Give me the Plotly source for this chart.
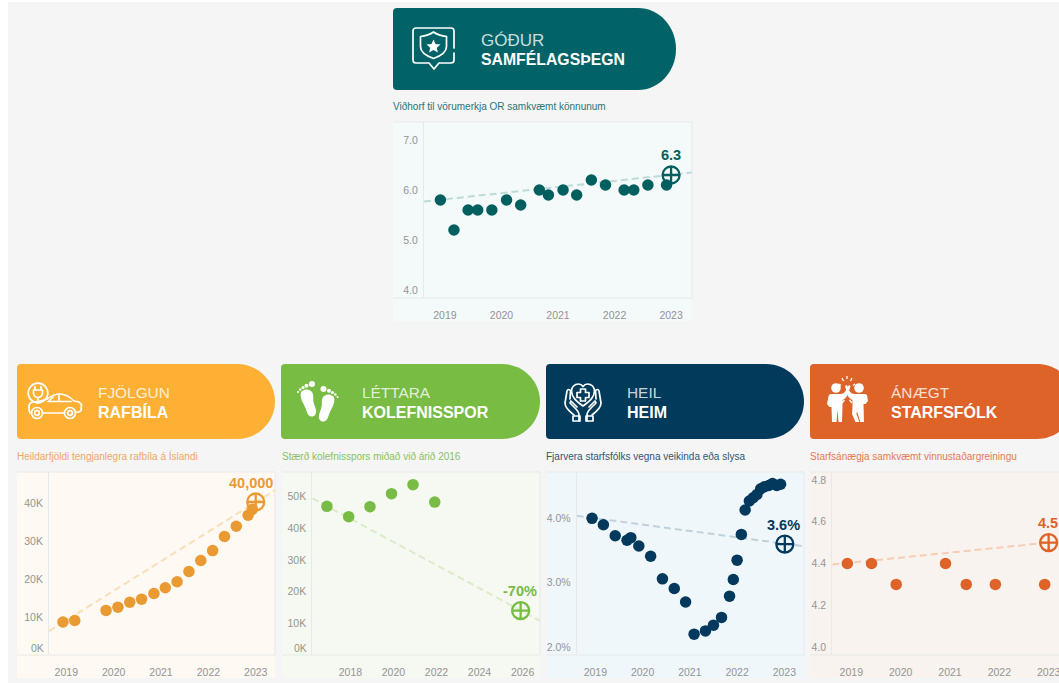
import base64
import plotly.graph_objects as go

W, H = 1059, 683
FONT = "Liberation Sans, Arial, sans-serif"

# ---------- data: social trust ----------
trust_x = [2018.92, 2019.16, 2019.41, 2019.58, 2019.83, 2020.09, 2020.34, 2020.67, 2020.83,
           2021.09, 2021.33, 2021.59, 2021.84, 2022.17, 2022.34, 2022.59, 2022.92]
trust_y = [5.8, 5.2, 5.6, 5.6, 5.6, 5.8, 5.7, 6.0, 5.9, 6.0, 5.9, 6.2, 6.1, 6.0, 6.0, 6.1, 6.1]
trust_trend_x = [2018.63, 2023.37]
trust_trend_y = [5.77, 6.35]
trust_target_x = [2023.0]
trust_target_y = [6.3]
trust_ticks = [4, 5, 6, 7]
trust_ticktext = ["4.0", "5.0", "6.0", "7.0"]

# ---------- data: electric cars ----------
ev_x = [2018.93, 2019.18, 2019.84, 2020.09, 2020.34, 2020.59, 2020.85, 2021.09, 2021.34,
        2021.59, 2021.84, 2022.09, 2022.34, 2022.59, 2022.84, 2022.93]
ev_y = [8700, 9100, 11750, 12600, 13900, 14700, 16200, 17700, 19300,
        22000, 24900, 27500, 31200, 33900, 36800, 38400]
ev_trend_x = [2018.635, 2023.407]
ev_trend_y = [6300, 43400]
ev_target_x = [2023.0]
ev_target_y = [40300]
ev_ticks = [10000, 20000, 30000, 40000]
ev_ticktext = ["10K", "20K", "30K", "40K"]

# ---------- data: carbon footprint ----------
co2_x = [2016.91, 2017.92, 2018.91, 2019.91, 2020.91, 2021.92]
co2_y = [46950, 43700, 46850, 50950, 53800, 48300]
co2_trend_x = [2016.23, 2026.81]
co2_trend_y = [49500, 10800]
co2_target_x = [2025.91]
co2_target_y = [14000]
co2_ticks = [10000, 20000, 30000, 40000, 50000]
co2_ticktext = ["10K", "20K", "30K", "40K", "50K"]
co2_xticks = [2018, 2020, 2022, 2024, 2026]

# ---------- data: absence ----------
abs_x = [2018.93, 2019.17, 2019.42, 2019.67, 2019.75, 2019.92, 2020.17, 2020.42, 2020.67,
         2020.91, 2021.09, 2021.33, 2021.50, 2021.67, 2021.84, 2021.92, 2022.0, 2022.09,
         2022.17, 2022.26, 2022.34, 2022.42, 2022.50, 2022.58, 2022.67, 2022.75, 2022.84, 2022.92]
abs_y = [4.0, 3.9, 3.73, 3.66, 3.7, 3.57, 3.41, 3.06, 2.91, 2.7, 2.2, 2.25, 2.34, 2.46,
         2.79, 3.05, 3.35, 3.75, 4.13, 4.27, 4.32, 4.37, 4.46, 4.49, 4.51, 4.54, 4.51, 4.53]
abs_trend_x = [2018.605, 2023.416]
abs_trend_y = [4.04, 3.565]
abs_target_x = [2023.01]
abs_target_y = [3.6]
abs_ticks = [2, 3, 4]
abs_ticktext = ["2.0%", "3.0%", "4.0%"]

# ---------- data: staff satisfaction ----------
sat_x = [2018.92, 2019.41, 2019.91, 2020.91, 2021.33, 2021.92, 2022.92]
sat_y = [4.4, 4.4, 4.3, 4.4, 4.3, 4.3, 4.3]
sat_trend_x = [2018.615, 2023.0]
sat_trend_y = [4.395, 4.5]
sat_target_x = [2023.0]
sat_target_y = [4.5]
sat_ticks = [4.0, 4.2, 4.4, 4.6, 4.8]
sat_ticktext = ["4.0", "4.2", "4.4", "4.6", "4.8"]

years = [2019, 2020, 2021, 2022, 2023]


def svg(w, h, body, stroke=True):
    style = 'fill="none" stroke="white" stroke-width="1.7" stroke-linecap="round" stroke-linejoin="round"' if stroke else 'fill="white"'
    s = f'<svg xmlns="http://www.w3.org/2000/svg" width="{w*3}" height="{h*3}" viewBox="0 0 {w} {h}"><g {style}>{body}</g></svg>'
    return "data:image/svg+xml;base64," + base64.b64encode(s.encode("utf-8")).decode()


ICON_SHIELD = svg(60, 60, '''
<path d="M49 30V13a3 3 0 0 0-3-3H11a3 3 0 0 0-3 3v29a3 3 0 0 0 3 3h13l5 6 5-6h12a3 3 0 0 0 3-3v-7"/>
<path d="M28.500 14c4 3 8 4 13 4.500v10c0 5-6 9.500-13 12-7-2.500-13-7-13-12v-10c5-.5 9-1.500 13-4.500z"/>
<path d="M28.500 21.500l2 4.500 5 .5-3.700 3.200 1.100 4.800-4.400-2.600-4.400 2.600 1.100-4.800-3.700-3.200 5-.5z" fill="white" stroke="none"/>
''')

ICON_CAR = svg(65, 50, '''
<circle cx="16" cy="15" r="9.800"/>
<path d="M13 8.500v3.500M19 8.500v3.500M11.500 12h9v3a4.500 4.500 0 0 1-9 0zM16 19.500v5"/>
<path d="M9.500 35H8l-1-3v-5l2-2.500 9-1.500 7-2c4-3 9-5 13-5 6 0 10 3 14 7l5 1 2.500 2.500-.5 6-2 1.500h-2"/>
<path d="M21 35h21"/>
<path d="M26 23.500h23M37 17.500v6M31 19l-4 4"/>
<circle cx="15" cy="35" r="5.500"/><circle cx="15" cy="35" r="2.300"/>
<circle cx="48" cy="35" r="5.500"/><circle cx="48" cy="35" r="2.300"/>
''')

ICON_FEET = svg(50, 50, '''
<path d="M10 16c3-2.500 8-2 10 1 2 3 1 7 1.500 10 .5 3 2 5 2.500 8 .5 3-.5 6-3.500 6.500-3 .5-5-2-6-5.500-1-3.500-2-5-4-9-1.500-3.500-3-8.500-.5-11z"/>
<circle cx="20" cy="9" r="3"/><circle cx="14.500" cy="10.800" r="2"/><circle cx="11" cy="12.500" r="1.600"/><circle cx="8.200" cy="14.500" r="1.300"/><circle cx="6" cy="17" r="1.100"/>
<path d="M41 21c-3-2.500-8-2-10 1-2 3-.5 6-1.500 10-.5 3-2 5-2.500 8-.5 3 .5 6 3.500 6.500 3 .5 5-2 6-5.500 1-3.500 2-5 4-9 1.500-3.500 3-8.500.5-11z"/>
<circle cx="31.500" cy="14" r="3"/><circle cx="37" cy="15.800" r="2"/><circle cx="40.500" cy="17.500" r="1.600"/><circle cx="43.300" cy="19.500" r="1.300"/><circle cx="45.500" cy="22" r="1.100"/>
''', stroke=False)

ICON_HANDS = svg(50, 50, '''
<path d="M25 31C18 26 13.500 22 13.500 16c0-4 3-7 7-7 2 0 3.500 1 4.500 2.500C26 10 27.500 9 29.500 9c4 0 7 3 7 7 0 6-4.500 10-11.500 15z"/>
<path d="M22.500 14h5v3.500H31v5h-3.500V26h-5v-3.500H19v-5h3.500z"/>
<path d="M21 46v-6c0-3-2-5-4-7l-5-5 1-2 6 6M16 40c-4-3-9-8-9-12l2-12c.5-2 3-2 3.500 0l-.5 8"/>
<path d="M15 41h7v5h-7z"/>
<path d="M29 46v-6c0-3 2-5 4-7l5-5-1-2-6 6M34 40c4-3 9-8 9-12l-2-12c-.5-2-3-2-3.500 0l.5 8"/>
<path d="M28 41h7v5h-7z"/>
''')

ICON_PEOPLE = svg(50, 50, '''
<circle cx="14" cy="13" r="4.800"/><circle cx="37" cy="13" r="4.800"/>
<path d="M8 19h10c3 0 5-1.500 6-4l3-5 1.500 1-3 9c-1 2.500-3 4-5 5v7l-.5 15h-3.500l-1-12-1 12H10l-.5-15-2 0-2.500-3 1.500-8z"/>
<path d="M43 19H33c-3 0-5-1.500-6-4l-2-5-2 1 2.500 9c1 2.500 3 4 5 5v7l-.5 7 3.500 8h3.800l-3-9 1-1 3 10H42l-.5-18h2l2.500-3-1-6z"/>
<path d="M25 1v3M20 3l1.500 3M30 3l-1.500 3M17 9l2 1.500M33 9l-2 1.500M16 22l4 1M34 22l-4 1M20 28l2.500-3M30 28l-2.500-3" fill="none" stroke="white" stroke-width="1.300"/>
''', stroke=False)


def fx(px):
    return px / W


def fy(py):
    return 1 - py / H


panels = [
    dict(x=trust_x, y=trust_y, tx=trust_trend_x, ty=trust_trend_y, gx=trust_target_x, gy=trust_target_y,
         yt=trust_ticks, ytt=trust_ticktext, xt=years, color="#025f60", trend="#bcdcd8", bg="#f4f9f9",
         pl=393, pr=692, pt=122, pb=321, ax=424, ay=298, xr=[2018.63, 2023.37], yr=[3.84, 7.36],
         head=(393, 676, 8, 90), hc="#016367", t1="GÓÐUR", t2="SAMFÉLAGSÞEGN", ts1=17, ts2=15.8, tx0=481, t1y=40, t2y=59,
         sub="Viðhorf til vörumerkja OR samkvæmt könnunum", subc="#2b7478", suby=106,
         label="6.3", lx=670.5, ly=155, icon=ICON_SHIELD, ic=(405, 18, 60, 60), zero=None),
    dict(x=ev_x, y=ev_y, tx=ev_trend_x, ty=ev_trend_y, gx=ev_target_x, gy=ev_target_y,
         yt=ev_ticks, ytt=ev_ticktext, xt=years, color="#ea9a32", trend="#f8dfb8", bg="#fef9f2",
         pl=17, pr=275, pt=472, pb=678, ax=49, ay=655, xr=[2018.635, 2023.407], yr=[0, 48200],
         head=(17, 275, 364, 439), hc="#fdb034", t1="FJÖLGUN", t2="RAFBÍLA", ts1=15.4, ts2=16, tx0=98, t1y=392, t2y=412,
         sub="Heildarfjöldi tengjanlegra rafbíla á Íslandi", subc="#f0a565", suby=456,
         label="40,000", lx=251, ly=483, icon=ICON_CAR, ic=(22, 378, 65, 50), zero="0K"),
    dict(x=co2_x, y=co2_y, tx=co2_trend_x, ty=co2_trend_y, gx=co2_target_x, gy=co2_target_y,
         yt=co2_ticks, ytt=co2_ticktext, xt=co2_xticks, color="#78bb45", trend="#dbebc9", bg="#f6f9f1",
         pl=282, pr=540, pt=472, pb=678, ax=312.3, ay=655, xr=[2016.23, 2026.81], yr=[0, 57800],
         head=(281, 540, 364, 439), hc="#78bc43", t1="LÉTTARA", t2="KOLEFNISSPOR", ts1=15.4, ts2=16, tx0=362, t1y=392, t2y=412,
         sub="Stærð kolefnisspors miðað við árið 2016", subc="#86c160", suby=456,
         label="-70%", lx=519.5, ly=591, icon=ICON_FEET, ic=(292, 375, 50, 50), zero="0K"),
    dict(x=abs_x, y=abs_y, tx=abs_trend_x, ty=abs_trend_y, gx=abs_target_x, gy=abs_target_y,
         yt=abs_ticks, ytt=abs_ticktext, xt=years, color="#03395c", trend="#c0d1db", bg="#f0f7fb",
         pl=546, pr=804, pt=472, pb=678, ax=576.7, ay=655, xr=[2018.605, 2023.416], yr=[1.876, 4.72],
         head=(546, 804, 364, 439), hc="#023a5c", t1="HEIL", t2="HEIM", ts1=15.4, ts2=16, tx0=627, t1y=392, t2y=412,
         sub="Fjarvera starfsfólks vegna veikinda eða slysa", subc="#2f5572", suby=456,
         label="3.6%", lx=783.5, ly=524.5, icon=ICON_HANDS, ic=(558, 375, 50, 50), zero=None),
    dict(x=sat_x, y=sat_y, tx=sat_trend_x, ty=sat_trend_y, gx=sat_target_x, gy=sat_target_y,
         yt=sat_ticks, ytt=sat_ticktext, xt=years, color="#dd6329", trend="#f6cdb4", bg="#f8f3ee",
         pl=810, pr=1059, pt=472, pb=678, ax=832.3, ay=655, xr=[2018.615, 2023.21], yr=[3.962, 4.838],
         head=(810, 1075, 364, 439), hc="#dd6329", t1="ÁNÆGT", t2="STARFSFÓLK", ts1=15.4, ts2=16, tx0=891, t1y=392, t2y=412,
         sub="Starfsánægja samkvæmt vinnustaðargreiningu", subc="#e8794f", suby=456,
         label="4.5", lx=1047.7, ly=522.5, icon=ICON_PEOPLE, ic=(822, 375, 50, 50), zero=None),
]

LINE = "#e7e9e8"
TICK = "#949494"

fig = go.Figure()
shapes, annots, images = [], [], []

# white page strip on the left and top
shapes.append(dict(type="rect", xref="paper", yref="paper", x0=0, x1=fx(8), y0=0, y1=1,
                   fillcolor="white", line_width=0, layer="below"))
shapes.append(dict(type="rect", xref="paper", yref="paper", x0=0, x1=1, y0=fy(2), y1=1,
                   fillcolor="white", line_width=0, layer="below"))

for i, p in enumerate(panels, start=1):
    xa, ya = ("x", "y") if i == 1 else (f"x{i}", f"y{i}")
    lay_x, lay_y = ("xaxis", "yaxis") if i == 1 else (f"xaxis{i}", f"yaxis{i}")

    fig.add_trace(go.Scatter(x=p["tx"], y=p["ty"], mode="lines", xaxis=xa, yaxis=ya,
                             line=dict(color=p["trend"], width=2, dash="7px,4px"), hoverinfo="skip"))
    fig.add_trace(go.Scatter(x=p["x"], y=p["y"], mode="markers", xaxis=xa, yaxis=ya,
                             marker=dict(color=p["color"], size=11.5, line_width=0), hoverinfo="skip"))
    fig.add_trace(go.Scatter(x=p["gx"], y=p["gy"], mode="markers", xaxis=xa, yaxis=ya, cliponaxis=False,
                             marker=dict(symbol="circle-cross-open", size=17, color=p["color"],
                                         line=dict(color=p["color"], width=2.3)), hoverinfo="skip"))

    fig.update_layout(**{
        lay_x: dict(domain=[fx(p["ax"]), fx(p["pr"])], range=p["xr"], tickmode="array", tickvals=p["xt"],
                    ticktext=[str(v) for v in p["xt"]], showgrid=False, zeroline=False, showline=False,
                    ticks="outside", ticklen=7, tickcolor="rgba(0,0,0,0)", ticklabeloverflow="allow",
                    tickfont=dict(family=FONT, size=10.5, color=TICK), anchor=ya),
        lay_y: dict(domain=[fy(p["ay"]), fy(p["pt"])], range=p["yr"], tickmode="array", tickvals=p["yt"],
                    ticktext=p["ytt"], showgrid=False, zeroline=False, showline=True, linecolor=LINE, linewidth=1,
                    ticks="outside", ticklen=3, tickcolor="rgba(0,0,0,0)",
                    tickfont=dict(family=FONT, size=10.5, color=TICK), anchor=xa),
    })

    # panel background and rules
    shapes.append(dict(type="rect", xref="paper", yref="paper", x0=fx(p["pl"]), x1=fx(p["pr"]),
                       y0=fy(p["pb"]), y1=fy(p["pt"]), fillcolor=p["bg"], line_width=0, layer="below"))
    shapes.append(dict(type="line", xref="paper", yref="paper", x0=fx(p["pl"]), x1=fx(p["pr"]),
                       y0=fy(p["ay"]), y1=fy(p["ay"]), line=dict(color=LINE, width=1), layer="below"))
    shapes.append(dict(type="line", xref="paper", yref="paper", x0=fx(p["pl"]), x1=fx(p["pr"]),
                       y0=fy(p["pt"]), y1=fy(p["pt"]), line=dict(color=LINE, width=1), layer="below"))
    if p["pr"] < W:
        shapes.append(dict(type="line", xref="paper", yref="paper", x0=fx(p["pr"]), x1=fx(p["pr"]),
                           y0=fy(p["ay"]), y1=fy(p["pt"]), line=dict(color=LINE, width=1), layer="below"))

    # header pill
    l, r, t, b = p["head"]
    rx, ry, c = 38, (b - t) / 2, 4
    k = 0.5523
    path = (f"M {fx(l+c)} {fy(t)} L {fx(r-rx)} {fy(t)} "
            f"C {fx(r-rx+k*rx)} {fy(t)} {fx(r)} {fy(t+ry-k*ry)} {fx(r)} {fy(t+ry)} "
            f"C {fx(r)} {fy(t+ry+k*ry)} {fx(r-rx+k*rx)} {fy(b)} {fx(r-rx)} {fy(b)} "
            f"L {fx(l+c)} {fy(b)} Q {fx(l)} {fy(b)} {fx(l)} {fy(b-c)} "
            f"L {fx(l)} {fy(t+c)} Q {fx(l)} {fy(t)} {fx(l+c)} {fy(t)} Z")
    shapes.append(dict(type="path", xref="paper", yref="paper", path=path, fillcolor=p["hc"],
                       line_width=0, layer="below"))

    annots.append(dict(xref="paper", yref="paper", x=fx(p["tx0"]), y=fy(p["t1y"]), xanchor="left", yanchor="middle",
                       xshift=-2, text=p["t1"], showarrow=False,
                       font=dict(family=FONT, size=p["ts1"], color="rgba(255,255,255,0.8)")))
    annots.append(dict(xref="paper", yref="paper", x=fx(p["tx0"]), y=fy(p["t2y"]), xanchor="left", yanchor="middle",
                       xshift=-2, text=f"<b>{p['t2']}</b>", showarrow=False,
                       font=dict(family=FONT, size=p["ts2"], color="white")))
    annots.append(dict(xref="paper", yref="paper", x=fx(p["pl"]), y=fy(p["suby"]), xanchor="left", yanchor="middle",
                       xshift=-2, text=p["sub"], showarrow=False, font=dict(family=FONT, size=10, color=p["subc"])))
    annots.append(dict(xref="paper", yref="paper", x=fx(p["lx"]), y=fy(p["ly"]), xanchor="center", yanchor="middle",
                       text=f"<b>{p['label']}</b>", showarrow=False,
                       font=dict(family=FONT, size=14.5, color=p["color"])))
    if p["zero"]:
        annots.append(dict(xref="paper", yref=ya, x=fx(p["ax"] - 3), y=0, xanchor="right", yanchor="middle",
                           yshift=7, text=p["zero"], showarrow=False,
                           font=dict(family=FONT, size=10.5, color=TICK)))

    ix, iy, iw, ih = p["ic"]
    images.append(dict(source=p["icon"], xref="paper", yref="paper", x=fx(ix), y=fy(iy),
                       sizex=iw / W, sizey=ih / H, xanchor="left", yanchor="top", sizing="stretch", layer="above"))

fig.update_layout(width=W, height=H, margin=dict(l=0, r=0, t=0, b=0), paper_bgcolor="#f5f5f5",
                  plot_bgcolor="rgba(0,0,0,0)", showlegend=False, hovermode=False,
                  shapes=shapes, annotations=annots, images=images)

fig.write_html("out.html", config=dict(displayModeBar=False),
               post_script="document.body.style.margin='0';document.body.style.overflow='hidden';")
